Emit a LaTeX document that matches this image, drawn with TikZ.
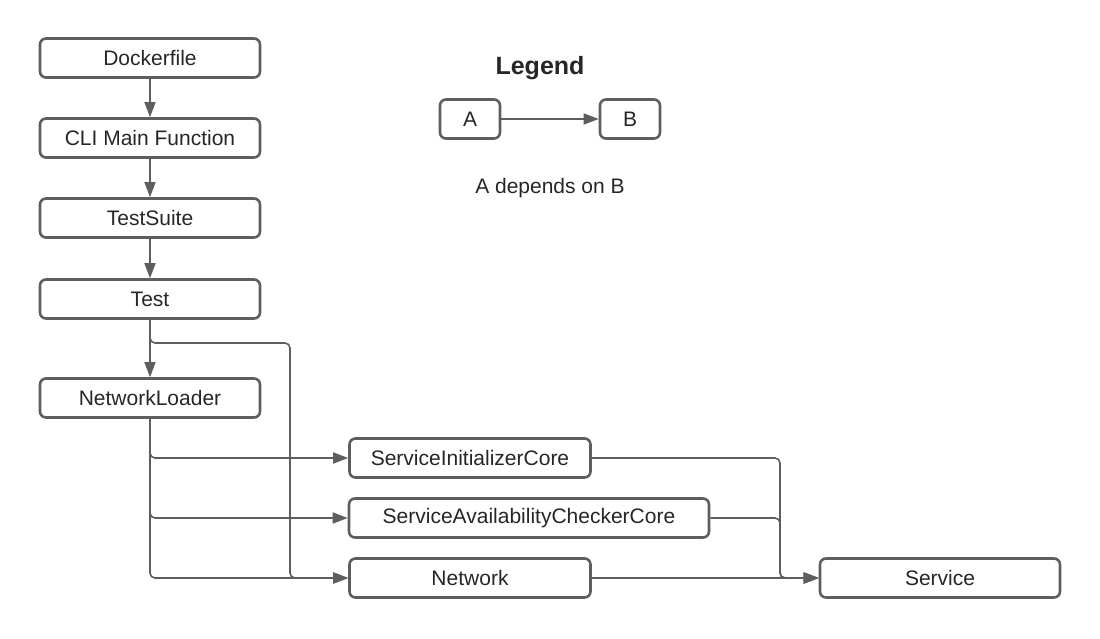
\documentclass[tikz,border=0pt]{standalone}
\usepackage{fontspec}
\setmainfont{Liberation Sans}
\usetikzlibrary{arrows.meta,positioning}
\definecolor{linegray}{HTML}{5E5E5E}

\tikzset{
  box/.style={draw=linegray,line width=2.6pt,rounded corners=6pt,minimum height=39pt,inner sep=0pt,
    font=\fontsize{21}{25}\selectfont,text=black!85},
  dep/.style={draw=linegray,line width=1.6pt,rounded corners=5pt,-{Triangle[length=15pt,width=11pt]}},
}

\begin{document}
\begin{tikzpicture}[x=1pt,y=-1pt]
\useasboundingbox(0,0)rectangle(1100,639);
% left column
\node[box,minimum width=220pt](docker)at(150,58){Dockerfile};
\node[box,minimum width=220pt](cli)at(150,138){CLI Main Function};
\node[box,minimum width=220pt](suite)at(150,218){TestSuite};
\node[box,minimum width=220pt](test)at(150,299){Test};
\node[box,minimum width=220pt](loader)at(150,398){NetworkLoader};
% right part
\node[box,minimum width=241pt](init)at(470,458){ServiceInitializerCore};
\node[box,minimum width=360pt](avail)at(529,518){ServiceAvailabilityCheckerCore};
\node[box,minimum width=241pt](net)at(470,578){Network};
\node[box,minimum width=240pt](service)at(940,578){Service};
% legend
\node[font=\fontsize{25}{30}\selectfont\bfseries,text=black!85](legend)at(540,68){Legend};
\node[box,minimum width=60pt](a)at(470,119){A};
\node[box,minimum width=60pt](b)at(630,119){B};
\node[font=\fontsize{21}{25}\selectfont,text=black!85](note)at(550,188){A depends on B};
\draw[dep](a)--(b);

\draw[dep](docker)--(cli);
\draw[dep](cli)--(suite);
\draw[dep](suite)--(test);
\draw[dep](test)--(loader);
\draw[dep](test.south)|-(290,343)|-(net.west);
\draw[dep](loader.south)|-(init.west);
\draw[dep](loader.south)|-(avail.west);
\draw[dep](loader.south)|-(net.west);
\draw[dep](init.east)-|(780,578)--(service.west);
\draw[dep](avail.east)-|(780,578)--(service.west);
\draw[dep](net)--(service);
\end{tikzpicture}
\end{document}
